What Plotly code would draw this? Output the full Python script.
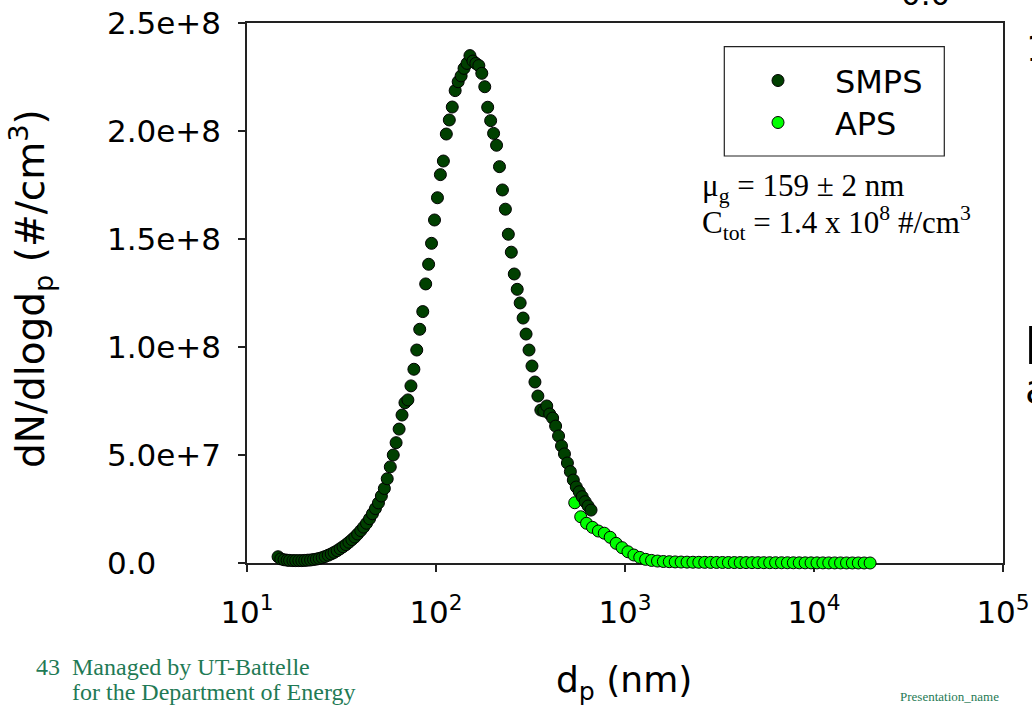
import plotly.graph_objects as go

# SMPS channel midpoint diameters (nm) and number concentrations dN/dlogDp (#/cm^3)
smps_dp = [14.6, 15.1, 15.7, 16.3, 16.8, 17.5, 18.1, 18.8, 19.5, 20.2, 20.9, 21.7, 22.5,
           23.3, 24.1, 25.0, 25.9, 26.9, 27.9, 28.9, 30.0, 31.1, 32.2, 33.4, 34.6, 35.9,
           37.2, 38.5, 40.0, 41.4, 42.9, 44.5, 46.1, 47.8, 49.6, 51.4, 53.3, 55.2, 57.3,
           59.4, 61.5, 63.8, 66.1, 68.5, 71.0, 73.7, 76.4, 79.1, 82.0, 85.1, 88.2, 91.4,
           94.7, 98.2, 101.8, 105.5, 109.4, 113.4, 117.6, 121.9, 126.3, 131.0, 135.8,
           140.7, 145.9, 151.2, 156.8, 162.5, 168.5, 174.7, 181.1, 187.7, 194.6, 201.7,
           209.1, 216.7, 224.7, 232.9, 241.4, 250.3, 259.5, 269.0, 278.8, 289.0, 299.6,
           310.6, 322.0, 333.8, 346.0, 358.7, 371.8, 385.4, 399.5, 414.2, 429.4, 445.1,
           461.4, 478.3, 495.8, 514.0, 532.8, 552.3, 572.5, 593.5, 615.3, 637.8, 661.2]
smps_dn = [2.9e6, 1.9e6, 1.5e6, 1.3e6, 1.2e6, 1.1e6, 1.1e6, 1.1e6, 1.1e6, 1.2e6, 1.3e6,
           1.4e6, 1.6e6, 1.8e6, 2.1e6, 2.5e6, 3.0e6, 3.6e6, 4.2e6, 4.9e6, 5.7e6, 6.6e6,
           7.5e6, 8.5e6, 9.6e6, 1.08e7, 1.20e7, 1.34e7, 1.50e7, 1.66e7, 1.84e7, 2.05e7,
           2.28e7, 2.52e7, 2.78e7, 3.10e7, 3.45e7, 3.90e7, 4.45e7, 5.00e7, 5.57e7, 6.20e7,
           6.85e7, 7.42e7, 7.55e7, 8.20e7, 8.97e7, 9.86e7, 1.082e8, 1.164e8, 1.292e8,
           1.383e8, 1.480e8, 1.588e8, 1.691e8, 1.798e8, 1.861e8, 1.986e8, 2.051e8, 2.111e8,
           2.187e8, 2.228e8, 2.255e8, 2.290e8, 2.313e8, 2.349e8, 2.324e8, 2.313e8, 2.303e8,
           2.267e8, 2.205e8, 2.110e8, 2.048e8, 1.989e8, 1.934e8, 1.835e8, 1.727e8, 1.638e8,
           1.522e8, 1.439e8, 1.338e8, 1.267e8, 1.204e8, 1.134e8, 1.060e8, 9.86e7, 9.12e7,
           8.38e7, 7.73e7, 7.08e7, 7.04e7, 7.27e7, 6.90e7, 6.71e7, 6.34e7, 5.88e7, 5.42e7,
           5.05e7, 4.63e7, 4.23e7, 3.84e7, 3.52e7, 3.30e7, 3.07e7, 2.84e7, 2.64e7, 2.45e7]

# APS channel midpoint diameters (nm) and number concentrations
aps_dp = [542, 583, 626, 673, 723, 777, 835, 898, 965, 1037, 1114, 1197, 1286, 1382,
          1486, 1596, 1715, 1843, 1981, 2129, 2288, 2458, 2642, 2839, 3051, 3278, 3523,
          3786, 4068, 4371, 4698, 5048, 5425, 5829, 6264, 6732, 7234, 7774, 8354, 8977,
          9647, 10370, 11140, 11970, 12860, 13820, 14860, 15960, 17150, 18430, 19810]
aps_dn = [2.79e7, 2.14e7, 1.84e7, 1.65e7, 1.48e7, 1.38e7, 1.19e7, 9.1e6, 7.1e6, 5.2e6,
          3.7e6, 2.6e6, 1.7e6, 1.2e6, 9.0e5, 7.0e5, 6.0e5, 5.0e5, 4.5e5, 4.0e5, 3.6e5,
          3.3e5, 3.0e5, 2.8e5, 2.6e5, 2.4e5, 2.2e5, 2.0e5, 1.9e5, 1.8e5, 1.7e5, 1.6e5,
          1.5e5, 1.4e5, 1.3e5, 1.2e5, 1.1e5, 1.0e5, 9.0e4, 8.0e4, 7.0e4, 6.0e4, 5.0e4,
          4.5e4, 4.0e4, 3.5e4, 3.0e4, 2.5e4, 2.0e4, 1.5e4, 1.0e4]

x_tick_vals = [10, 100, 1000, 10000, 100000]
x_tick_text = ["10<sup>1</sup>", "10<sup>2</sup>", "10<sup>3</sup>",
               "10<sup>4</sup>", "10<sup>5</sup>"]
y_tick_vals = [0, 5e7, 1e8, 1.5e8, 2e8, 2.5e8]
y_tick_text = ["0.0", "5.0e+7", "1.0e+8", "1.5e+8", "2.0e+8", "2.5e+8"]

W, H = 1032, 707
ML, MR, MT, MB = 247, 29, 23, 144
SANS = "DejaVu Sans"
SERIF = "Liberation Serif"
FOOT = "#1f7a55"
GAP = "\u00a0\u00a0\u00a0\u2009"  # spacing between legend symbol and label


def px_x(px):
    """page pixel column -> paper x"""
    return (px - ML) / (W - ML - MR)


def px_y(py):
    """page pixel row -> paper y"""
    return (H - MB - py) / (H - MT - MB)


fig = go.Figure()
fig.add_trace(go.Scatter(
    x=aps_dp, y=aps_dn, mode="markers", name=GAP + "APS",
    marker=dict(size=12, color="#00ff00", line=dict(color="black", width=1)),
    cliponaxis=False, legend="legend2"))
fig.add_trace(go.Scatter(
    x=smps_dp, y=smps_dn, mode="markers", name=GAP + "SMPS",
    marker=dict(size=12, color="#004000", line=dict(color="black", width=1)),
    cliponaxis=False, legend="legend"))

axis_common = dict(showline=True, linecolor="#222222", linewidth=1.5, mirror=True,
                   showgrid=False, zeroline=False, ticks="outside", ticklen=7,
                   tickwidth=1.5, tickcolor="#222222", layer="below traces",
                   automargin=False)

legend_common = dict(xanchor="left", yanchor="middle", font=dict(family=SANS, size=32),
                     bgcolor="rgba(0,0,0,0)", borderwidth=0)

fig.update_layout(
    width=W, height=H, margin=dict(l=ML, r=MR, t=MT, b=MB, autoexpand=False),
    paper_bgcolor="white", plot_bgcolor="white", showlegend=True,
    font=dict(family=SANS, size=31, color="black"),
    xaxis=dict(type="log", range=[1, 5], tickvals=x_tick_vals, ticktext=x_tick_text,
               tickfont=dict(family=SANS, size=31), ticklabelstandoff=14, **axis_common),
    yaxis=dict(range=[0, 2.5e8], tickvals=y_tick_vals, showticklabels=False,
               **axis_common),
    legend=dict(x=px_x(758), y=px_y(80.7), **legend_common),
    legend2=dict(x=px_x(758), y=px_y(122.7), visible=True, **legend_common),
    shapes=[dict(type="rect", xref="paper", yref="paper",
                 x0=px_x(724.3), x1=px_x(944.3), y0=px_y(156), y1=px_y(46.7),
                 line=dict(color="#222222", width=1.2), fillcolor="rgba(0,0,0,0)")],
)

ann = []
# y tick labels, left aligned
for v, t in zip(y_tick_vals, y_tick_text):
    ann.append(dict(x=px_x(105), y=v, xref="paper", yref="y", text=t, showarrow=False,
                    xanchor="left", yanchor="middle", font=dict(family=SANS, size=31)))

# axis titles
ann.append(dict(x=px_x(31), y=px_y(289), xref="paper", yref="paper",
                text="dN/dlogd<sub>p</sub> (#/cm<sup>3</sup>)", textangle=-90,
                showarrow=False, xanchor="center", yanchor="middle",
                font=dict(family=SANS, size=39)))
ann.append(dict(x=px_x(624), y=px_y(682), xref="paper", yref="paper",
                text="d<sub>p</sub> (nm)", showarrow=False, xanchor="center",
                yanchor="middle", font=dict(family=SANS, size=36)))

# fit results
ann.append(dict(x=px_x(700), y=px_y(188), xref="paper", yref="paper",
                text="\u03bc<sub>g</sub> = 159 \u00b1 2 nm", showarrow=False,
                xanchor="left", yanchor="middle", font=dict(family=SERIF, size=31)))
ann.append(dict(x=px_x(700), y=px_y(223), xref="paper", yref="paper",
                text="C<sub>tot</sub> = 1.4 x 10<sup>8</sup> #/cm<sup>3</sup>",
                showarrow=False, xanchor="left", yanchor="middle",
                font=dict(family=SERIF, size=31)))

# slide footer
ann.append(dict(x=px_x(34), y=px_y(667), xref="paper", yref="paper", text="43",
                showarrow=False, xanchor="left", yanchor="middle",
                font=dict(family=SERIF, size=24, color=FOOT)))
ann.append(dict(x=px_x(70), y=px_y(667), xref="paper", yref="paper",
                text="Managed by UT-Battelle", showarrow=False, xanchor="left",
                yanchor="middle", font=dict(family=SERIF, size=24, color=FOOT)))
ann.append(dict(x=px_x(70), y=px_y(692), xref="paper", yref="paper",
                text="for the Department of Energy", showarrow=False, xanchor="left",
                yanchor="middle", font=dict(family=SERIF, size=24, color=FOOT)))
ann.append(dict(x=px_x(898), y=px_y(696), xref="paper", yref="paper",
                text="Presentation_name", showarrow=False, xanchor="left",
                yanchor="middle", font=dict(family=SERIF, size=13, color=FOOT)))

# edges of the neighbouring panel on the slide
ann.append(dict(x=px_x(925), y=px_y(14), xref="paper", yref="paper", text="0.0",
                showarrow=False, xanchor="center", yanchor="bottom",
                font=dict(family=SANS, size=31)))
ann.append(dict(x=px_x(1024), y=px_y(26), xref="paper", yref="paper", text="1",
                showarrow=False, xanchor="left", yanchor="top",
                font=dict(family=SANS, size=36)))
ann.append(dict(x=px_x(1022), y=px_y(346), xref="paper", yref="paper", text="P",
                showarrow=False, xanchor="left", yanchor="middle",
                font=dict(family=SANS, size=52)))
ann.append(dict(x=px_x(1023), y=px_y(389), xref="paper", yref="paper", text="a",
                showarrow=False, xanchor="left", yanchor="middle",
                font=dict(family=SANS, size=40)))

fig.update_layout(annotations=ann)
fig.write_html("out.html")
